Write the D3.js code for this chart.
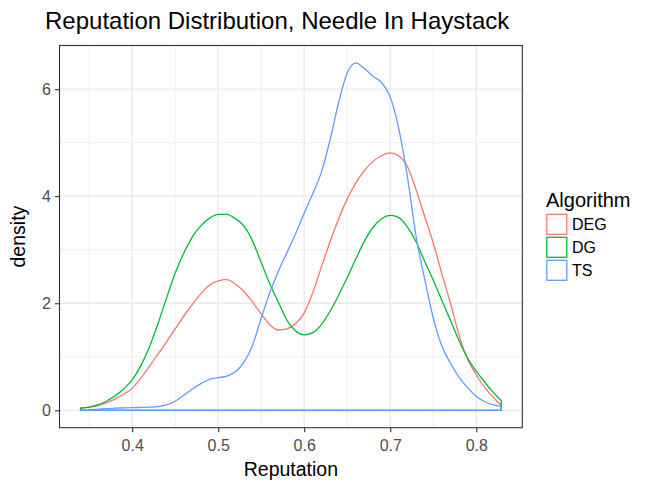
<!DOCTYPE html>
<html lang="en">
<head>
    <meta charset="UTF-8">
    <title>Reputation Distribution, Needle In Haystack</title>
    <style>
        body { margin: 0; background: #fff; font-family: "Liberation Sans", Arial, sans-serif; }
        .grid-major { stroke: #EBEBEB; stroke-width: 1.4; }
        .grid-minor { stroke: #EBEBEB; stroke-width: 0.8; }
        .tick-label { fill: #4D4D4D; font-size: 16px; }
        .density { fill: none; stroke-width: 1.3; stroke-linejoin: round; }
    </style>
</head>
<body>
    <svg id="chart" width="654" height="490"></svg>

    <script src="https://d3js.org/d3.v7.min.js"></script>
    <script>
        // Density estimates (Reputation -> density)
        const reputation = [0.34, 0.35, 0.36, 0.37, 0.38, 0.39, 0.40, 0.41, 0.42, 0.43,
                            0.44, 0.45, 0.46, 0.47, 0.48, 0.49, 0.50, 0.51, 0.52, 0.53,
                            0.54, 0.55, 0.56, 0.57, 0.58, 0.59, 0.60, 0.61, 0.62, 0.63,
                            0.64, 0.65, 0.66, 0.67, 0.68, 0.69, 0.70, 0.71, 0.72, 0.73,
                            0.74, 0.75, 0.76, 0.77, 0.78, 0.79, 0.80, 0.81, 0.82, 0.829];

        const degDensity = [0.04, 0.06, 0.09, 0.14, 0.21, 0.30, 0.41, 0.60, 0.82, 1.05,
                            1.28, 1.52, 1.76, 1.98, 2.18, 2.34, 2.42, 2.44, 2.36, 2.22,
                            2.02, 1.80, 1.60, 1.50, 1.52, 1.62, 1.82, 2.20, 2.68, 3.15,
                            3.58, 3.95, 4.25, 4.48, 4.65, 4.76, 4.81, 4.75, 4.55, 4.12,
                            3.62, 3.12, 2.55, 2.00, 1.40, 0.95, 0.66, 0.42, 0.24, 0.09];

        const dgDensity  = [0.04, 0.06, 0.10, 0.17, 0.27, 0.40, 0.57, 0.83, 1.18, 1.62,
                            2.10, 2.56, 2.94, 3.24, 3.45, 3.59, 3.66, 3.66, 3.58, 3.44,
                            3.16, 2.76, 2.36, 2.02, 1.68, 1.48, 1.41, 1.45, 1.60, 1.85,
                            2.15, 2.48, 2.83, 3.16, 3.42, 3.58, 3.64, 3.60, 3.42, 3.15,
                            2.78, 2.43, 2.05, 1.68, 1.30, 0.97, 0.73, 0.52, 0.33, 0.18];

        const tsDensity  = [0.00, 0.01, 0.02, 0.03, 0.04, 0.045, 0.05, 0.055, 0.06, 0.07,
                            0.10, 0.17, 0.28, 0.40, 0.50, 0.58, 0.61, 0.64, 0.72, 0.90,
                            1.22, 1.72, 2.20, 2.60, 2.95, 3.30, 3.68, 4.05, 4.45, 5.05,
                            5.75, 6.30, 6.49, 6.38, 6.24, 6.12, 5.85, 5.25, 4.35, 3.25,
                            2.45, 1.72, 1.20, 0.88, 0.62, 0.42, 0.26, 0.16, 0.10, 0.075];

        const algorithms = ['DEG', 'DG', 'TS'];
        const colors = ['#F8766D', '#00BA38', '#619CFF'];
        const xMajor = [0.4, 0.5, 0.6, 0.7, 0.8];
        const xMinor = [0.35, 0.45, 0.55, 0.65, 0.75];
        const yMajor = [0, 2, 4, 6];
        const yMinor = [1, 3, 5];

        const series = [degDensity, dgDensity, tsDensity].map((vals, i) => ({
            name: algorithms[i],
            color: colors[i],
            points: reputation.map((r, j) => [r, vals[j]])
        }));

        const svg = d3.select('#chart');
        const margin = { top: 45.5, right: 131.7, bottom: 62.3, left: 59.5 };
        const width = 654, height = 490;
        const pw = width - margin.left - margin.right;
        const ph = height - margin.top - margin.bottom;

        // ggplot style 5% expansion on both axes
        const xExt = d3.extent(reputation);
        const xPad = (xExt[1] - xExt[0]) * 0.05;
        const yMax = d3.max(series, s => d3.max(s.points, p => p[1]));
        const yPad = yMax * 0.05;

        const x = d3.scaleLinear()
            .domain([xExt[0] - xPad, xExt[1] + xPad])
            .range([margin.left, margin.left + pw]);
        const y = d3.scaleLinear()
            .domain([-yPad, yMax + yPad])
            .range([margin.top + ph, margin.top]);

        // grid
        const grid = svg.append('g');
        grid.selectAll('.gx-minor').data(xMinor).enter().append('line')
            .attr('class', 'grid-minor')
            .attr('x1', d => x(d)).attr('x2', d => x(d))
            .attr('y1', margin.top).attr('y2', margin.top + ph);
        grid.selectAll('.gy-minor').data(yMinor).enter().append('line')
            .attr('class', 'grid-minor')
            .attr('x1', margin.left).attr('x2', margin.left + pw)
            .attr('y1', d => y(d)).attr('y2', d => y(d));
        grid.selectAll('.gx-major').data(xMajor).enter().append('line')
            .attr('class', 'grid-major')
            .attr('x1', d => x(d)).attr('x2', d => x(d))
            .attr('y1', margin.top).attr('y2', margin.top + ph);
        grid.selectAll('.gy-major').data(yMajor).enter().append('line')
            .attr('class', 'grid-major')
            .attr('x1', margin.left).attr('x2', margin.left + pw)
            .attr('y1', d => y(d)).attr('y2', d => y(d));

        // density outlines, closed along the baseline like geom_density
        const line = d3.line()
            .x(d => x(d[0]))
            .y(d => y(d[1]))
            .curve(d3.curveMonotoneX);

        svg.append('g').selectAll('path')
            .data(series)
            .enter()
            .append('path')
            .attr('class', 'density')
            .attr('stroke', d => d.color)
            .attr('d', d => {
                const first = d.points[0][0], last = d.points[d.points.length - 1][0];
                return line(d.points) + 'L' + x(last) + ',' + y(0) + 'L' + x(first) + ',' + y(0) + 'Z';
            });

        // panel border
        svg.append('rect')
            .attr('x', margin.left).attr('y', margin.top)
            .attr('width', pw).attr('height', ph)
            .attr('fill', 'none').attr('stroke', '#333333').attr('stroke-width', 1.1);

        // axes
        const xAxis = svg.append('g')
            .attr('transform', 'translate(0,' + (margin.top + ph) + ')')
            .call(d3.axisBottom(x).tickValues(xMajor).tickSize(4.5).tickPadding(4).tickFormat(d3.format('.1f')));
        const yAxis = svg.append('g')
            .attr('transform', 'translate(' + margin.left + ',0)')
            .call(d3.axisLeft(y).tickValues(yMajor).tickSize(4.5).tickPadding(4).tickFormat(d3.format('d')));

        [xAxis, yAxis].forEach(ax => {
            ax.select('.domain').remove();
            ax.selectAll('.tick line').attr('stroke', '#333333').attr('stroke-width', 1.1);
            ax.selectAll('.tick text')
                .attr('class', 'tick-label')
                .attr('font-family', null).attr('font-size', null);
        });
        xAxis.selectAll('.tick text').attr('dy', '0.95em');

        // titles
        svg.append('text')
            .attr('x', 45).attr('y', 28.5)
            .attr('font-size', 24).attr('fill', '#000')
            .text('Reputation Distribution, Needle In Haystack');

        svg.append('text')
            .attr('x', margin.left + pw / 2).attr('y', 475.5)
            .attr('text-anchor', 'middle')
            .attr('font-size', 19.5)
            .text('Reputation');

        svg.append('text')
            .attr('transform', 'translate(25,' + (margin.top + ph / 2) + ') rotate(-90)')
            .attr('text-anchor', 'middle')
            .attr('font-size', 19.5)
            .text('density');

        // legend
        const legend = svg.append('g').attr('transform', 'translate(546,0)');
        legend.append('text')
            .attr('x', 0).attr('y', 206.5)
            .attr('font-size', 20)
            .text('Algorithm');

        const keys = legend.selectAll('.key')
            .data(series)
            .enter()
            .append('g')
            .attr('transform', (d, i) => 'translate(0,' + (213.5 + i * 23) + ')');
        keys.append('rect')
            .attr('x', 0.8).attr('y', 0.8)
            .attr('width', 20).attr('height', 20)
            .attr('fill', '#fff')
            .attr('stroke', d => d.color)
            .attr('stroke-width', 1.3);
        keys.append('text')
            .attr('x', 26).attr('y', 16.3)
            .attr('font-size', 16)
            .text(d => d.name);
    </script>
</body>
</html>
